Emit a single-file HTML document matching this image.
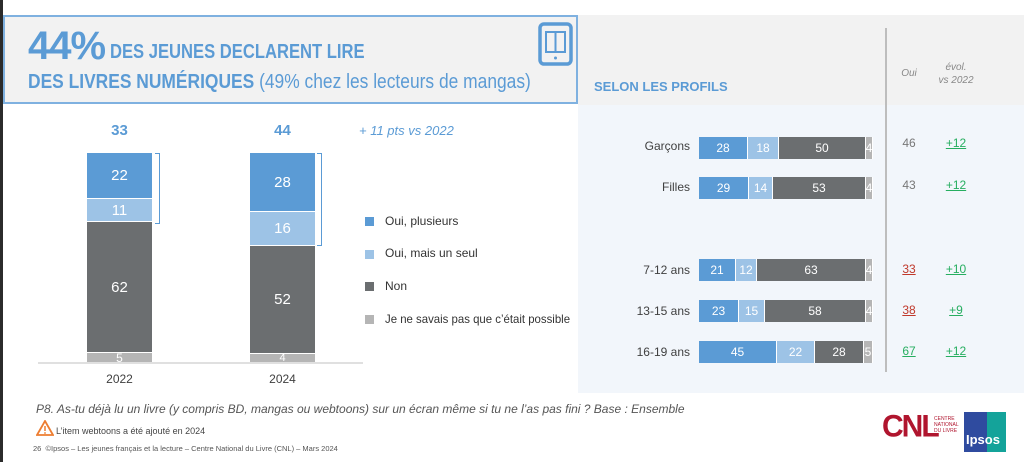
<!DOCTYPE html>
<html><head><meta charset="utf-8"><style>
*{margin:0;padding:0;box-sizing:border-box}
body{width:1024px;height:462px;position:relative;background:#fff;font-family:"Liberation Sans",sans-serif;overflow:hidden}
.a{position:absolute}
.seg{position:absolute;color:#fff;font-size:15px;display:flex;align-items:center;justify-content:center}
.hb{position:absolute;height:22px;display:flex}
.hb div{height:22px;color:#fff;font-size:12px;display:flex;align-items:center;justify-content:center;border-right:1px solid #fff;overflow:hidden}
.lbl{position:absolute;width:120px;text-align:right;font-size:12px;color:#404040;left:570px}
.num{position:absolute;width:40px;text-align:center;font-size:12px}
.B{background:#5b9bd5}.L{background:#9dc3e6}.D{background:#6b6e70}.G{background:#b5b5b5}
</style></head><body>
<div class="a" style="left:0;top:0;width:3px;height:462px;background:#2b2b2b"></div>
<!-- title box -->
<div class="a" style="left:3px;top:15px;width:575px;height:89px;background:#f2f2f2;border:2px solid #7fb1e0"></div>
<div class="a" style="left:28px;top:24px;color:#5b9bd5;font-weight:bold;font-size:40px;letter-spacing:-1px">44%</div>
<div class="a" style="left:110px;top:41px;color:#5b9bd5;font-weight:bold;font-size:20px;white-space:nowrap;transform:scaleX(0.83);transform-origin:0 0">DES JEUNES DECLARENT LIRE</div>
<div class="a" style="left:28px;top:71px;color:#5b9bd5;font-size:20px;white-space:nowrap;transform:scaleX(0.87);transform-origin:0 0"><b>DES LIVRES NUMÉRIQUES</b> (49% chez les lecteurs de mangas)</div>
<svg class="a" style="left:538px;top:22px" width="36" height="44"><rect x="2" y="2" width="31" height="40" rx="4" fill="none" stroke="#5b9bd5" stroke-width="3.5"/><rect x="8" y="10" width="19" height="20" fill="none" stroke="#5b9bd5" stroke-width="2"/><line x1="17.5" y1="10" x2="17.5" y2="30" stroke="#5b9bd5" stroke-width="2"/><circle cx="17.5" cy="36" r="1.5" fill="#5b9bd5"/></svg>
<!-- right panel -->
<div class="a" style="left:578px;top:15px;width:446px;height:90px;background:#f2f2f2"></div>
<div class="a" style="left:578px;top:105px;width:446px;height:288px;background:#f2f6fb"></div>
<div class="a" style="left:885px;top:28px;width:2px;height:344px;background:#bdbdbd"></div>
<div class="a" style="left:594px;top:79px;font-size:13px;font-weight:bold;color:#5b9bd5">SELON LES PROFILS</div>
<div class="num" style="left:889px;top:68px;font-size:10px;font-style:italic;color:#888">Oui</div>
<div class="num" style="left:931px;top:61px;width:50px;font-size:10px;font-style:italic;color:#888;line-height:13px">évol.<br>vs 2022</div>
<!-- left chart -->
<div class="a" style="left:38px;top:362px;width:325px;height:2px;background:#e0e0e0"></div>
<div class="a" style="left:87px;top:122px;width:65px;text-align:center;font-size:15px;font-weight:bold;color:#5b9bd5">33</div>
<div class="a" style="left:250px;top:122px;width:65px;text-align:center;font-size:15px;font-weight:bold;color:#5b9bd5">44</div>
<div class="a" style="left:359px;top:123px;font-size:13px;font-style:italic;color:#5b9bd5">+ 11 pts vs 2022</div>
<div class="seg B" style="left:87px;top:153px;width:65px;height:45px">22</div>
<div class="seg L" style="left:87px;top:199px;width:65px;height:22px">11</div>
<div class="seg D" style="left:87px;top:222px;width:65px;height:130px">62</div>
<div class="seg G" style="left:87px;top:353px;width:65px;height:9px;font-size:12px">5</div>
<div class="seg B" style="left:250px;top:153px;width:65px;height:58px">28</div>
<div class="seg L" style="left:250px;top:212px;width:65px;height:33px">16</div>
<div class="seg D" style="left:250px;top:246px;width:65px;height:107px">52</div>
<div class="seg G" style="left:250px;top:354px;width:65px;height:8px;font-size:11px">4</div>
<div class="a" style="left:155px;top:153px;width:5px;height:71px;border:1.5px solid #5b9bd5;border-left:none"></div>
<div class="a" style="left:317px;top:153px;width:5px;height:93px;border:1.5px solid #5b9bd5;border-left:none"></div>
<div class="a" style="left:87px;top:372px;width:65px;text-align:center;font-size:12px;color:#404040">2022</div>
<div class="a" style="left:250px;top:372px;width:65px;text-align:center;font-size:12px;color:#404040">2024</div>
<div class="a B" style="left:365px;top:217px;width:9px;height:9px"></div>
<div class="a L" style="left:365px;top:250px;width:9px;height:9px"></div>
<div class="a D" style="left:365px;top:282px;width:9px;height:9px"></div>
<div class="a G" style="left:365px;top:315px;width:9px;height:9px"></div>
<div class="a" style="left:385px;top:214px;font-size:12px;color:#333">Oui, plusieurs</div>
<div class="a" style="left:385px;top:246px;font-size:12px;color:#333">Oui, mais un seul</div>
<div class="a" style="left:385px;top:279px;font-size:12px;color:#333">Non</div>
<div class="a" style="left:385px;top:312px;font-size:12px;color:#333;white-space:nowrap;transform:scaleX(0.95);transform-origin:0 0">Je ne savais pas que c’était possible</div>
<!-- right bars -->
<div class="lbl" style="top:139px">Garçons</div>
<div class="hb" style="left:699px;top:137px"><div class="B" style="width:49px">28</div><div class="L" style="width:31px">18</div><div class="D" style="width:87px">50</div><div class="G" style="width:7px">4</div></div>
<div class="lbl" style="top:180px">Filles</div>
<div class="hb" style="left:699px;top:177px"><div class="B" style="width:50px">29</div><div class="L" style="width:24px">14</div><div class="D" style="width:93px">53</div><div class="G" style="width:7px">4</div></div>
<div class="lbl" style="top:263px">7-12 ans</div>
<div class="hb" style="left:699px;top:259px"><div class="B" style="width:37px">21</div><div class="L" style="width:21px">12</div><div class="D" style="width:109px">63</div><div class="G" style="width:7px">4</div></div>
<div class="lbl" style="top:304px">13-15 ans</div>
<div class="hb" style="left:699px;top:300px"><div class="B" style="width:40px">23</div><div class="L" style="width:26px">15</div><div class="D" style="width:101px">58</div><div class="G" style="width:7px">4</div></div>
<div class="lbl" style="top:345px">16-19 ans</div>
<div class="hb" style="left:699px;top:341px"><div class="B" style="width:78px">45</div><div class="L" style="width:38px">22</div><div class="D" style="width:49px">28</div><div class="G" style="width:9px">5</div></div>
<div class="num" style="left:889px;top:136px;color:#777">46</div>
<div class="num" style="left:889px;top:178px;color:#777">43</div>
<div class="num" style="left:889px;top:262px;color:#c0392b;text-decoration:underline">33</div>
<div class="num" style="left:889px;top:303px;color:#c0392b;text-decoration:underline">38</div>
<div class="num" style="left:889px;top:344px;color:#27ae60;text-decoration:underline">67</div>
<div class="num" style="left:936px;top:136px;color:#27ae60;text-decoration:underline">+12</div>
<div class="num" style="left:936px;top:178px;color:#27ae60;text-decoration:underline">+12</div>
<div class="num" style="left:936px;top:262px;color:#27ae60;text-decoration:underline">+10</div>
<div class="num" style="left:936px;top:303px;color:#27ae60;text-decoration:underline">+9</div>
<div class="num" style="left:936px;top:344px;color:#27ae60;text-decoration:underline">+12</div>
<!-- footer -->
<div class="a" style="left:36px;top:402px;font-size:12px;font-style:italic;color:#555;white-space:nowrap">P8. As-tu déjà lu un livre (y compris BD, mangas ou webtoons) sur un écran même si tu ne l’as pas fini ? Base : Ensemble</div>
<svg class="a" style="left:36px;top:420px" width="18" height="16"><path d="M9 1 L17 15 L1 15 Z" fill="none" stroke="#ed7d31" stroke-width="1.8"/><line x1="9" y1="6" x2="9" y2="11" stroke="#ed7d31" stroke-width="1.5"/><circle cx="9" cy="13" r="0.9" fill="#ed7d31"/></svg>
<div class="a" style="left:56px;top:426px;font-size:9px;color:#444">L’item webtoons a été ajouté en 2024</div>
<div class="a" style="left:33px;top:444px;font-size:7.5px;color:#555;white-space:nowrap">26&nbsp;&nbsp;©Ipsos – Les jeunes français et la lecture – Centre National du Livre (CNL) – Mars 2024</div>
<div class="a" style="left:882px;top:410px;font-size:30px;font-weight:bold;color:#b0152e;letter-spacing:-2px;transform:scaleY(1.05)">CNL</div>
<div class="a" style="left:934px;top:416px;font-size:5px;color:#b0152e;line-height:6px">CENTRE<br>NATIONAL<br>DU LIVRE</div>
<div class="a" style="left:964px;top:412px;width:42px;height:40px;background:linear-gradient(90deg,#2f4b9f 55%,#14a39a 55%)"></div>
<div class="a" style="left:966px;top:432px;font-size:13px;font-weight:bold;color:#fff">Ipsos</div>
</body></html>
